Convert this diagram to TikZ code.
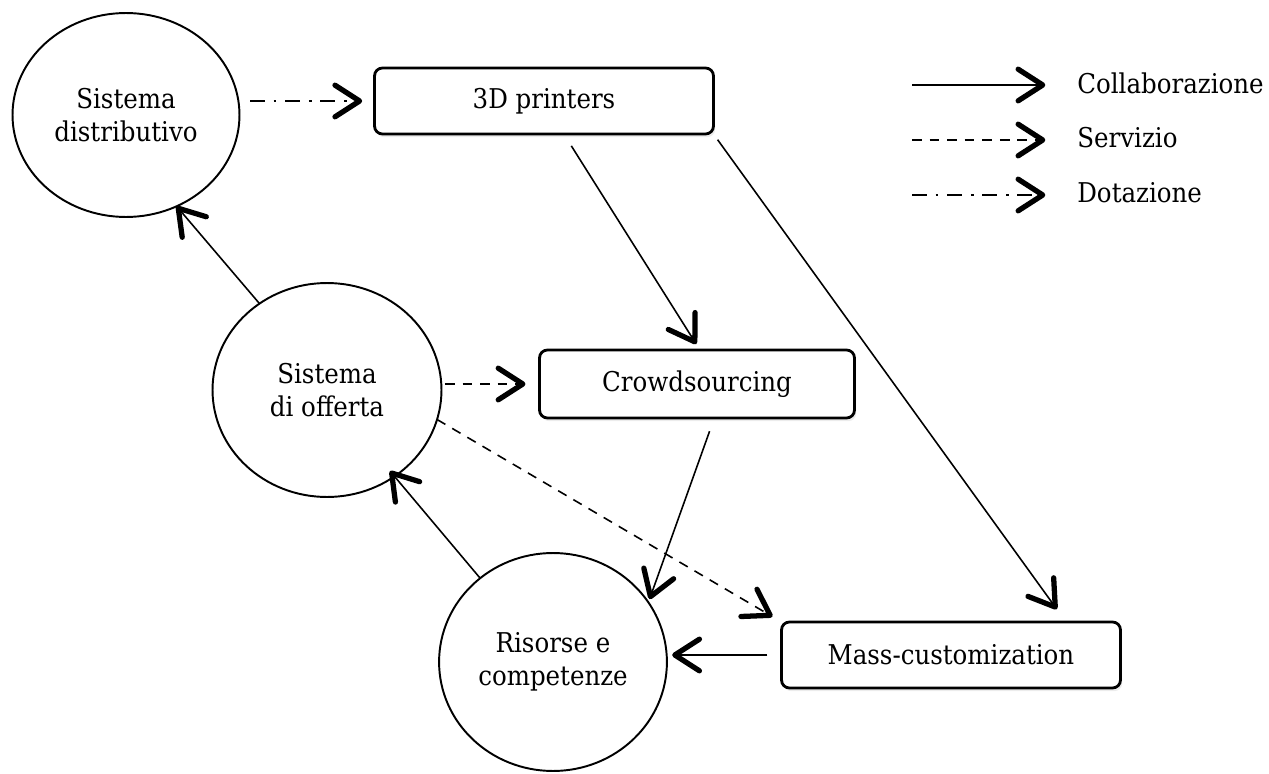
\documentclass[tikz,border=0pt]{standalone}
\usepackage{fontspec}
\setmainfont{DejaVu Serif Condensed}
\usetikzlibrary{shapes.geometric,arrows.meta,shadows}
\tikzstyle{collab} = [line width=0.9pt,-{Straight Barb[length=14pt,width=18pt,line width=3pt 0,round]}]
\tikzstyle{serv} = [collab,dash pattern=on 5.5pt off 4.5pt]
\tikzstyle{dotaz} = [collab,dash pattern=on 8.5pt off 5pt on 1.5pt off 5pt]
\tikzstyle{cerchio} = [ellipse,draw,line width=1.1pt,outer sep=0pt,align=center,minimum width=4.54cm,minimum height=4.2cm]
\tikzstyle{box} = [rectangle,draw,line width=1.6pt,rounded corners=4.5pt,outer sep=0pt,fill=white,
  minimum width=6.78cm,minimum height=1.32cm,drop shadow={shadow xshift=1pt,shadow yshift=-1.8pt,opacity=0.15}]

\begin{document}
\begin{tikzpicture}[x=0.02cm,y=-0.02cm,font=\fontsize{15.5}{19}\selectfont]
    \useasboundingbox (0,0) rectangle (1269,774);
    % nodi
    \node[cerchio,minimum height=4.08cm] (distr) at (126,115) {Sistema\\distributivo};
    \node[cerchio,minimum width=4.58cm,minimum height=4.28cm] (offerta) at (327,390) {Sistema\\di offerta};
    \node[cerchio,minimum height=4.36cm] (risorse) at (553,662) {Risorse e\\competenze};
    \node[box] (printers) at (544,101) {3D printers};
    \node[box,minimum width=6.3cm,minimum height=1.36cm] (crowd) at (697,384) {Crowdsourcing};
    \node[box] (mass) at (951,655) {Mass-customization};

    % collegamenti
    \draw [dotaz,shorten <=6pt,shorten >=7pt] (distr.east |- printers.west) -- (printers.west);
    \draw [collab] (offerta.128) -- (distr.-61);
    \draw [collab,shorten >=-4pt] (risorse.131) -- (offerta.-52);
    \draw [serv,shorten <=2pt,shorten >=8pt] (offerta.east |- crowd.west) -- (crowd.west);
    \draw [serv,shorten >=6pt] (offerta.-15) -- (mass.north west);
    \draw [collab,shorten <=8pt,shorten >=4pt] (printers.-59) -- (crowd.85);
    \draw [collab,shorten <=4pt,shorten >=9pt] (printers.south east) -- (mass.16);
    \draw [collab,shorten <=8pt,shorten >=2pt] (crowd.-63) -- (risorse.32);
    \draw [collab,shorten <=8pt,shorten >=3pt] (mass.west) -- (mass.west -| risorse.east);

    % legenda
    \node[anchor=west,inner sep=0pt] (lcollab) at (1077,83) {Collaborazione};
    \node[anchor=west,inner sep=0pt] (lserv) at (1077,138) {Servizio};
    \node[anchor=west,inner sep=0pt] (ldotaz) at (1077,193) {Dotazione};
    \coordinate (c1) at (912,85);
    \coordinate (c2) at (912,140);
    \coordinate (c3) at (912,195);
    \draw [collab,shorten >=18pt] (c1) -- (lcollab.west |- c1);
    \draw [serv,shorten >=18pt] (c2) -- (lserv.west |- c2);
    \draw [dotaz,shorten >=18pt] (c3) -- (ldotaz.west |- c3);
\end{tikzpicture}
\end{document}
